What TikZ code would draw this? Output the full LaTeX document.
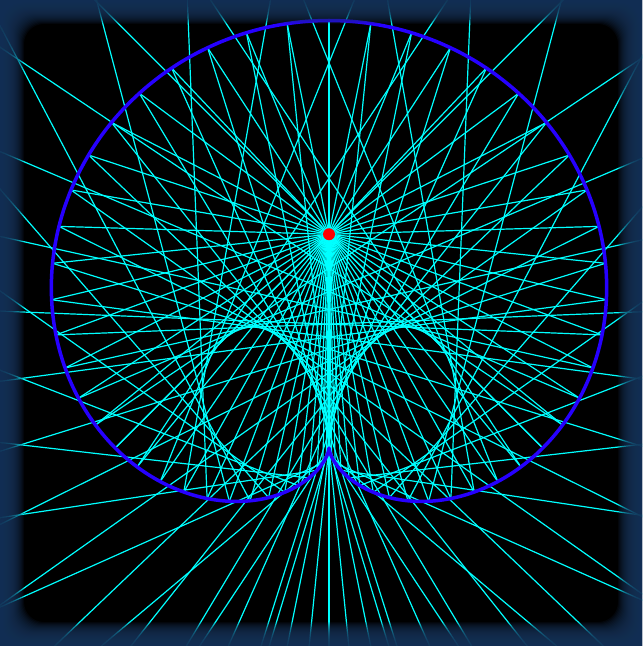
\documentclass[tikz,border=0pt]{standalone}
\definecolor{raycol}{RGB}{0,255,255}
\definecolor{cardcol}{RGB}{38,0,255}
\definecolor{edgecol}{RGB}{24,52,90}
\tikzset{
  ray/.style={raycol, line width=0.6pt},
  cardioid/.style={cardcol, line width=1.75pt, line join=round},
}
\def\A{213.75}
\begin{document}
\begin{tikzpicture}[x=0.5pt,y=-0.5pt]
\fill[black] (0,0) rectangle (642,646);
\useasboundingbox (0,0) rectangle (642,646);
\coordinate (C) at (329,448);
\coordinate (S) at (329,{448-\A});
\begin{scope}
\clip (0,0) rectangle (642,646);
\foreach \k in {0,...,63}{
  \pgfmathsetmacro\th{\k*5.625}
  \pgfmathsetmacro\rr{\A*(1+cos(\th))}
  \pgfmathsetmacro\pu{\rr*cos(\th)}
  \pgfmathsetmacro\pv{\rr*sin(\th)}
  \pgfmathsetmacro\psii{atan2(\pv,\pu-\A)}
  \pgfmathsetmacro\psir{3*\th+180-\psii}
  \coordinate (P) at ({329+\pv},{448-\pu});
  \coordinate (Q) at ({329+\pv+900*sin(\psir)},{448-\pu-900*cos(\psir)});
  \draw[ray] (S) -- (P);
  \draw[ray] (P) -- (Q);
}
\draw[cardioid] plot[domain=0:360, samples=241, smooth]
  ({329+\A*(1+cos(\x))*sin(\x)},{448-\A*(1+cos(\x))*cos(\x)});
\fill[red] (S) circle (6);
\end{scope}
\foreach \i in {1,...,24}{
  \fill[edgecol, opacity=0.13, even odd rule]
    (0,0) rectangle (642,646)
    [rounded corners=10pt] (\i,\i) rectangle ({642-\i},{646-\i});
}
\end{tikzpicture}
\end{document}
